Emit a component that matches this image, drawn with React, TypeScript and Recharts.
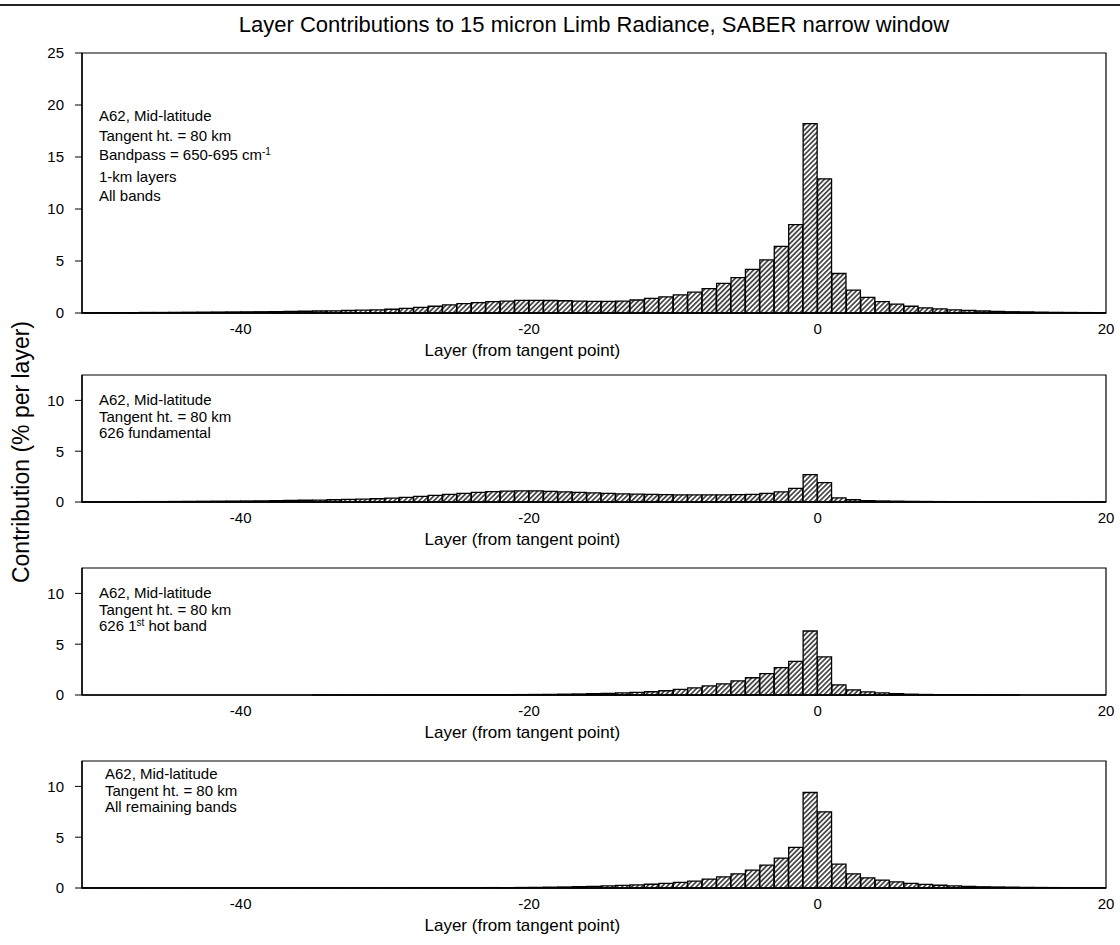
import { Bar, BarChart, ReferenceArea, XAxis, YAxis } from 'recharts'
import type { ReactNode } from 'react'

// layer index relative to the tangent layer, one bar per 1-km layer
const layers = Array.from({ length: 71 }, (_, i) => i - 50)

// contribution, % per layer (layers -50 .. 20)
const allBands = [
  0.02, 0.03, 0.03, 0.04, 0.05, 0.05, 0.06, 0.07, 0.08, 0.09,
  0.10, 0.11, 0.12, 0.14, 0.15, 0.17, 0.19, 0.21, 0.24, 0.27,
  0.30, 0.36, 0.45, 0.55, 0.65, 0.78, 0.90, 1.00, 1.10, 1.15,
  1.22, 1.22, 1.20, 1.18, 1.15, 1.12, 1.12, 1.15, 1.25, 1.40,
  1.55, 1.75, 2.00, 2.35, 2.85, 3.40, 4.20, 5.10, 6.40, 8.50,
  18.2, 12.9, 3.80, 2.20, 1.50, 1.10, 0.85, 0.65, 0.50, 0.40,
  0.30, 0.24, 0.19, 0.15, 0.12, 0.10, 0.08, 0.06, 0.05, 0.04, 0.03,
]

const fundamental = [
  0.02, 0.02, 0.03, 0.03, 0.04, 0.04, 0.05, 0.06, 0.07, 0.08,
  0.09, 0.10, 0.11, 0.13, 0.15, 0.17, 0.19, 0.22, 0.25, 0.28,
  0.32, 0.38, 0.45, 0.55, 0.65, 0.75, 0.85, 0.95, 1.02, 1.08,
  1.10, 1.10, 1.05, 1.00, 0.95, 0.90, 0.85, 0.80, 0.78, 0.75,
  0.72, 0.70, 0.70, 0.70, 0.70, 0.72, 0.75, 0.85, 1.00, 1.35,
  2.70, 1.90, 0.40, 0.22, 0.14, 0.10, 0.08, 0.06, 0.05, 0.04,
  0.03, 0.03, 0.02, 0.02, 0.02, 0.01, 0.01, 0.01, 0.01, 0.01, 0.01,
]

const firstHotBand = [
  0, 0, 0, 0, 0, 0, 0, 0, 0, 0,
  0, 0, 0, 0, 0, 0, 0.01, 0.01, 0.01, 0.01,
  0.01, 0.01, 0.02, 0.02, 0.02, 0.02, 0.03, 0.03, 0.03, 0.04,
  0.04, 0.05, 0.06, 0.08, 0.10, 0.13, 0.16, 0.20, 0.25, 0.32,
  0.42, 0.55, 0.70, 0.90, 1.10, 1.40, 1.70, 2.10, 2.70, 3.30,
  6.30, 3.75, 1.00, 0.50, 0.30, 0.20, 0.13, 0.08, 0.05, 0.03,
  0.02, 0.02, 0.01, 0.01, 0.01, 0, 0, 0, 0, 0, 0,
]

const remainingBands = [
  0.01, 0.01, 0.01, 0.01, 0.01, 0.01, 0.01, 0.01, 0.01, 0.01,
  0.01, 0.01, 0.01, 0.01, 0.02, 0.02, 0.02, 0.02, 0.02, 0.02,
  0.02, 0.02, 0.02, 0.03, 0.03, 0.03, 0.03, 0.03, 0.04, 0.04,
  0.05, 0.06, 0.08, 0.10, 0.13, 0.16, 0.20, 0.25, 0.30, 0.37,
  0.45, 0.56, 0.68, 0.88, 1.10, 1.40, 1.75, 2.25, 2.95, 4.00,
  9.40, 7.50, 2.35, 1.40, 1.00, 0.78, 0.60, 0.45, 0.35, 0.27,
  0.20, 0.15, 0.12, 0.10, 0.08, 0.06, 0.05, 0.04, 0.03, 0.02, 0.02,
]

const xTicks = [-40, -20, 0, 20]
const topTicks = [0, 5, 10, 15, 20, 25]
const lowerTicks = [0, 5, 10]

const FONT = '"Liberation Sans", Arial, Helvetica, sans-serif'
const CHART_W = 1120
const PLOT_LEFT = 82
const MARGIN_R = 14
const MARGIN_T = 12
const X_AXIS_H = 46

interface PanelProps {
  id: string
  values: number[]
  yMax: number
  yTicks: number[]
  plotTop: number
  plotHeight: number
}

// axis title sits a little left of the axis centre
function AxisTitle({ viewBox }: any) {
  const { x, y, width, height } = viewBox
  return (
    <text x={x + width * 0.43} y={y + height - 3} textAnchor="middle" fontSize={17} fontFamily={FONT} fill="#000">
      Layer (from tangent point)
    </text>
  )
}

function Panel({ id, values, yMax, yTicks, plotTop, plotHeight }: PanelProps) {
  // bar for layer n spans [n-1, n]
  const rows = layers.map((layer, i) => ({ mid: layer - 0.5, value: values[i] }))
  return (
    <div style={{ position: 'absolute', left: 0, top: plotTop - MARGIN_T }}>
      <BarChart
        width={CHART_W}
        height={MARGIN_T + plotHeight + X_AXIS_H}
        data={rows}
        margin={{ top: MARGIN_T, right: MARGIN_R, bottom: 0, left: 0 }}
        barCategoryGap={0}
        barGap={0}
      >
        <defs>
          <pattern id={id} patternUnits="userSpaceOnUse" width={3.5} height={3.5} patternTransform="rotate(45)">
            <rect width={3.5} height={3.5} fill="#fff" />
            <line x1={1.75} y1={0} x2={1.75} y2={3.5} stroke="#000" strokeWidth={1.25} />
          </pattern>
        </defs>
        <XAxis
          type="number"
          dataKey="mid"
          domain={[-51, 20]}
          ticks={xTicks}
          interval={0}
          height={X_AXIS_H}
          tickLine={false}
          tickMargin={4}
          axisLine={{ stroke: '#000', strokeWidth: 1.3 }}
          tick={{ fill: '#000', fontSize: 15, fontFamily: FONT }}
          label={{ content: AxisTitle }}
        />
        <YAxis
          type="number"
          domain={[0, yMax]}
          ticks={yTicks}
          interval={0}
          width={PLOT_LEFT}
          tickSize={7}
          tickMargin={11}
          tickLine={{ stroke: '#000' }}
          axisLine={{ stroke: '#000', strokeWidth: 1.3 }}
          tick={{ fill: '#000', fontSize: 15, fontFamily: FONT }}
        />
        <ReferenceArea x1={-51} x2={20} y1={0} y2={yMax} fill="none" stroke="#000" strokeWidth={1.2} />
        <Bar dataKey="value" fill={`url(#${id})`} stroke="#000" strokeWidth={1.3} isAnimationActive={false} />
      </BarChart>
    </div>
  )
}

function Notes({ left, top, lineHeight, children }: { left: number; top: number; lineHeight: number; children: ReactNode }) {
  return (
    <div style={{ position: 'absolute', left, top, fontSize: 15, lineHeight: `${lineHeight}px`, fontFamily: FONT, color: '#000', whiteSpace: 'nowrap' }}>
      {children}
    </div>
  )
}

const sup = { fontSize: 10, position: 'relative' as const, top: -5 }

export default function App() {
  return (
    <div style={{ position: 'absolute', left: 0, top: 0, width: 1120, height: 945, background: '#fff', overflow: 'hidden', fontFamily: FONT }}>
      <div style={{ position: 'absolute', left: 0, top: 4, width: 1120, height: 2, background: '#222' }} />
      <div style={{ position: 'absolute', left: PLOT_LEFT, top: 13, width: CHART_W - PLOT_LEFT - MARGIN_R, textAlign: 'center', fontSize: 22, lineHeight: '24px', color: '#000' }}>
        Layer Contributions to 15 micron Limb Radiance, SABER narrow window
      </div>
      <svg width={44} height={945} style={{ position: 'absolute', left: 0, top: 0 }}>
        <text x={21} y={452} transform="rotate(-90 21 452)" textAnchor="middle" dominantBaseline="central" fontSize={23} fontFamily={FONT} fill="#000">
          Contribution (% per layer)
        </text>
      </svg>

      <Panel id="hatch-all" values={allBands} yMax={25} yTicks={topTicks} plotTop={53} plotHeight={260} />
      <Panel id="hatch-fund" values={fundamental} yMax={12.5} yTicks={lowerTicks} plotTop={375} plotHeight={127} />
      <Panel id="hatch-hot" values={firstHotBand} yMax={12.5} yTicks={lowerTicks} plotTop={568} plotHeight={127} />
      <Panel id="hatch-rest" values={remainingBands} yMax={12.5} yTicks={lowerTicks} plotTop={761} plotHeight={127} />

      <Notes left={99} top={106} lineHeight={19.5}>
        A62, Mid-latitude<br />
        Tangent ht. = 80 km<br />
        Bandpass = 650-695 cm<span style={sup}>-1</span><br />
        1-km layers<br />
        All bands
      </Notes>
      <Notes left={99} top={392} lineHeight={16.5}>
        A62, Mid-latitude<br />
        Tangent ht. = 80 km<br />
        626 fundamental
      </Notes>
      <Notes left={99} top={585} lineHeight={16.5}>
        A62, Mid-latitude<br />
        Tangent ht. = 80 km<br />
        626 1<span style={sup}>st</span> hot band
      </Notes>
      <Notes left={105} top={766} lineHeight={16.5}>
        A62, Mid-latitude<br />
        Tangent ht. = 80 km<br />
        All remaining bands
      </Notes>
    </div>
  )
}
